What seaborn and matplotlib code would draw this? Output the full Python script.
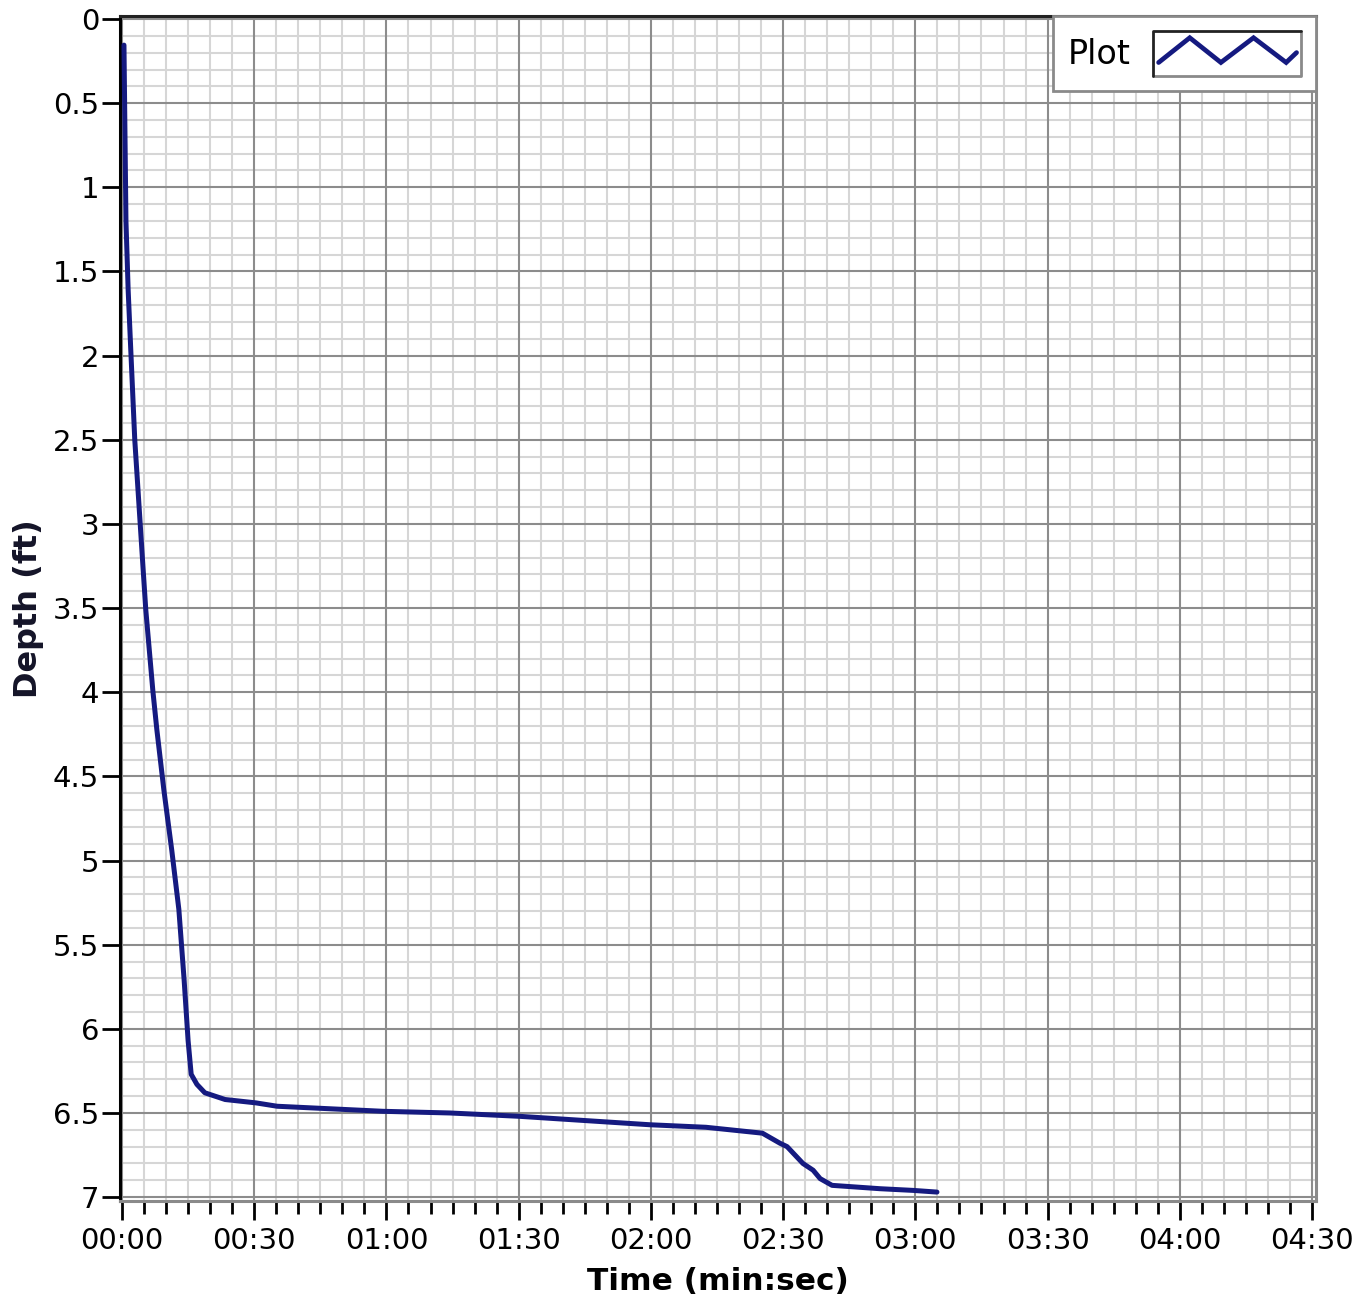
import numpy as np
import pandas as pd
import matplotlib
matplotlib.use("Agg")
import matplotlib.pyplot as plt
import seaborn as sns
from matplotlib.legend_handler import HandlerBase
from matplotlib.lines import Line2D
from matplotlib.ticker import MultipleLocator, FuncFormatter

# ---- data (time in seconds, depth in ft) ----
time_s = [0.45, 0.9, 1.4, 2.0, 2.9, 4.8, 5.4, 7.0, 7.9, 9.5, 11.3, 12.9, 14.1, 15.0,
          15.7, 17.0, 18.8, 23.4, 30.4, 35.2, 59.2, 74.4, 90.3, 119.8, 132.5, 145.3,
          149.3, 150.9, 152.7, 154.5, 156.8, 158.4, 161.1, 172.0, 179.5, 184.9]
depth_ft = [0.155, 1.2, 1.61, 1.97, 2.5, 3.27, 3.51, 3.99, 4.22, 4.58, 4.94, 5.29, 5.71, 6.07,
            6.27, 6.33, 6.38, 6.42, 6.44, 6.46, 6.49, 6.50, 6.52, 6.57, 6.585, 6.62,
            6.68, 6.70, 6.75, 6.80, 6.84, 6.89, 6.93, 6.95, 6.96, 6.97]
series_name = "Plot"
x_label = "Time (min:sec)"
y_label = "Depth (ft)"

df = pd.DataFrame({"t": time_s, "d": depth_ft, "s": series_name})

LINE_COLOR = "#151a80"

sns.set_style("white")
plt.rcParams["font.family"] = ["DejaVu Sans"]
for k in ["text.color", "axes.labelcolor", "xtick.color", "ytick.color"]:
    plt.rcParams[k] = "black"

fig = plt.figure(figsize=(13.68, 12.94), dpi=100)
pos = [120/1368, 1 - 1201/1294, (1316-120)/1368, (1201-16)/1294]

# background axes: white + minor grid only
ax_bg = fig.add_axes(pos, zorder=0)
# main axes: major grid + data, transparent background
ax = fig.add_axes(pos, zorder=1, sharex=ax_bg, sharey=ax_bg)
ax.patch.set_visible(False)

sns.lineplot(data=df, x="t", y="d", ax=ax, color=LINE_COLOR, linewidth=3.6,
             label=series_name, zorder=5, sort=False)

ax.set_xlim(-0.45, 270.9)
ax.set_ylim(7.023, -0.018)

ax.xaxis.set_major_locator(MultipleLocator(30))
ax.xaxis.set_minor_locator(MultipleLocator(5))
ax.yaxis.set_major_locator(MultipleLocator(0.5))
ax.yaxis.set_minor_locator(MultipleLocator(0.1))

def mmss(v, pos):
    v = int(round(v))
    return f"{v // 60:02d}:{v % 60:02d}"
ax.xaxis.set_major_formatter(FuncFormatter(mmss))
ax.yaxis.set_major_formatter(FuncFormatter(lambda v, p: f"{v:g}"))

# minor grid on background axes
ax_bg.grid(False)
ax_bg.grid(which="minor", color="#d6d6d6", linewidth=1.5)
ax_bg.tick_params(which="both", bottom=False, left=False, labelbottom=False, labelleft=False)
for s in ax_bg.spines.values():
    s.set_visible(False)

# major grid on main axes
ax.grid(False)
ax.grid(which="major", color="#8c8c8c", linewidth=1.5)
ax.set_axisbelow(True)

ax.tick_params(axis="x", which="major", direction="out", length=14, width=2, color="black",
               labelsize=21, pad=5, bottom=True, labelbottom=True)
ax.tick_params(axis="x", which="minor", direction="out", length=9, width=2, color="black", bottom=True)
ax.tick_params(axis="y", which="major", direction="out", length=13, width=2, color="black",
               labelsize=21, pad=2, left=True, labelleft=True)
ax.tick_params(axis="y", which="minor", left=False)

for side, col in [("left", "black"), ("top", "#222222"), ("right", "#8a8a8a"), ("bottom", "#8a8a8a")]:
    ax.spines[side].set_visible(True)
    ax.spines[side].set_color(col)
    ax.spines[side].set_linewidth(2.2)

ax.set_xlabel(x_label, fontsize=22.5, fontweight="bold", labelpad=8)
ax.set_ylabel(y_label, fontsize=23, fontweight="bold", color="#141428", labelpad=6)


class ZigzagHandler(HandlerBase):
    def create_artists(self, legend, orig_handle, xdescent, ydescent, width, height, fontsize, trans):
        x0, y0 = -xdescent, -ydescent
        x1, y1 = x0 + width, y0 + height
        dark = Line2D([x0, x0, x1], [y0, y1, y1], color="#222222", lw=2, transform=trans)
        light = Line2D([x0, x1, x1], [y0, y0, y1], color="#8a8a8a", lw=2, transform=trans)
        fx = np.array([0.04, 0.25, 0.46, 0.68, 0.90, 0.97])
        fy = np.array([0.30, 0.85, 0.30, 0.85, 0.30, 0.52])
        ln = Line2D(x0 + fx * width, y0 + fy * height, color=LINE_COLOR, lw=3.4,
                    solid_joinstyle="miter", transform=trans)
        return [light, dark, ln]

handles, labels = ax.get_legend_handles_labels()
leg = ax.legend(handles, labels, loc="upper right", borderaxespad=0, fontsize=24,
                markerfirst=False, handlelength=4.45, handleheight=1.7, handletextpad=0.65,
                borderpad=0.45, frameon=True, fancybox=False, framealpha=1,
                edgecolor="#8a8a8a", handler_map={type(handles[0]): ZigzagHandler()})
leg.get_frame().set_linewidth(2)
leg.set_zorder(10)

fig.savefig("out.png", dpi=100)
